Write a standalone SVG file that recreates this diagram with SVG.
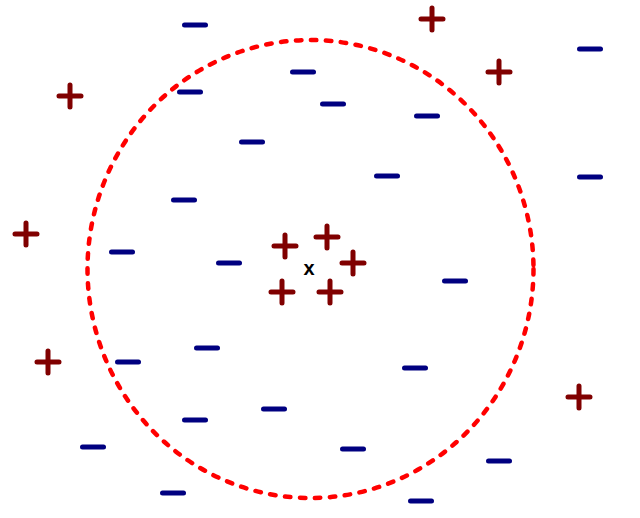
<svg xmlns="http://www.w3.org/2000/svg" xmlns:xlink="http://www.w3.org/1999/xlink" width="640" height="518" viewBox="0 0 640 518">
<style>
.pos{stroke:#800000;stroke-width:5;stroke-linecap:round;fill:none}
.neg{stroke:#000080;stroke-width:5;stroke-linecap:round;fill:none}
.ring{stroke:#ff0000;stroke-width:4.5;stroke-linecap:round;stroke-dasharray:5.5 9.5;fill:none}
.lbl{font-family:"Liberation Sans",Arial,sans-serif;font-weight:bold;font-size:20px;fill:#000;text-anchor:middle}
</style>
<defs>
<path id="plus" class="pos" d="M-11,0H11M0,-11V11"/>
<path id="minus" class="neg" d="M-10.5,0H10.5"/>
</defs>
<rect width="640" height="518" fill="#fff"/>
<g id="boundary">
<ellipse class="ring" cx="310.5" cy="269" rx="223" ry="229"/>
</g>
<g id="query"><text class="lbl" x="309" y="274.5">x</text></g>
<g id="positives">
<use id="p1" href="#plus" x="432" y="19"/>
<use id="p2" href="#plus" x="499" y="72"/>
<use id="p3" href="#plus" x="70" y="96"/>
<use id="p4" href="#plus" x="26" y="234"/>
<use id="p5" href="#plus" x="48" y="362"/>
<use id="p6" href="#plus" x="579" y="397"/>
<use id="p7" href="#plus" x="285" y="246"/>
<use id="p8" href="#plus" x="327" y="237"/>
<use id="p9" href="#plus" x="353" y="263"/>
<use id="p10" href="#plus" x="282" y="292"/>
<use id="p11" href="#plus" x="330" y="292"/>
</g>
<g id="negatives">
<use id="n1" href="#minus" x="195" y="25"/>
<use id="n2" href="#minus" x="590" y="49"/>
<use id="n3" href="#minus" x="303" y="72"/>
<use id="n4" href="#minus" x="190" y="92"/>
<use id="n5" href="#minus" x="333" y="104"/>
<use id="n6" href="#minus" x="427" y="116"/>
<use id="n7" href="#minus" x="252" y="142"/>
<use id="n8" href="#minus" x="387" y="176"/>
<use id="n9" href="#minus" x="590" y="177"/>
<use id="n10" href="#minus" x="184" y="200"/>
<use id="n11" href="#minus" x="122" y="252"/>
<use id="n12" href="#minus" x="229" y="263"/>
<use id="n13" href="#minus" x="455" y="281"/>
<use id="n14" href="#minus" x="207" y="348"/>
<use id="n15" href="#minus" x="128" y="362"/>
<use id="n16" href="#minus" x="415" y="368"/>
<use id="n17" href="#minus" x="274" y="409"/>
<use id="n18" href="#minus" x="195" y="420"/>
<use id="n19" href="#minus" x="93" y="447"/>
<use id="n20" href="#minus" x="353" y="449"/>
<use id="n21" href="#minus" x="499" y="461"/>
<use id="n22" href="#minus" x="173" y="493"/>
<use id="n23" href="#minus" x="421" y="501"/>
</g>
</svg>
